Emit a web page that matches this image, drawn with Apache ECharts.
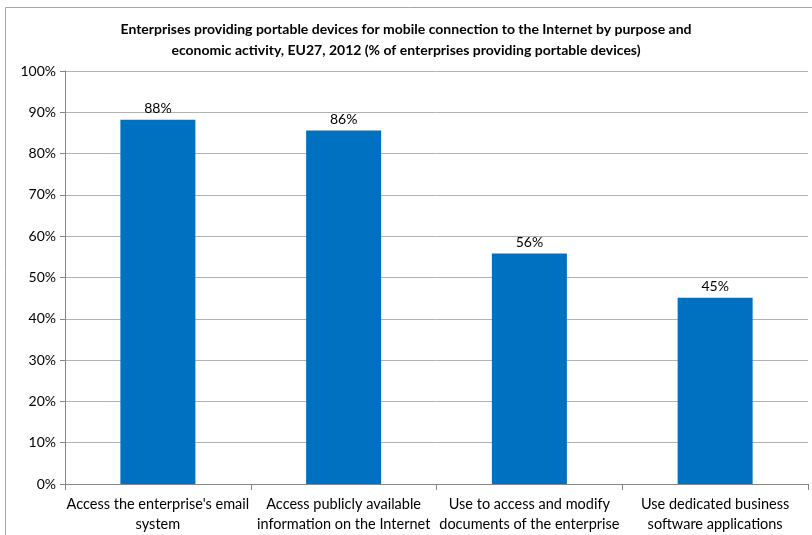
<!DOCTYPE html>
<html>
<head>
<meta charset="utf-8">
<script src="https://cdn.jsdelivr.net/npm/echarts@6/dist/echarts.min.js"></script>
<style>
  html, body { margin: 0; padding: 0; background: #fff; }
  #chart { width: 812px; height: 535px; }
</style>
</head>
<body>
<div id="chart"></div>
<script>
var categories = [
  "Access the enterprise's email\nsystem",
  "Access publicly available\ninformation on the Internet",
  "Use to access and modify\ndocuments of the enterprise",
  "Use dedicated business\nsoftware applications"
];
var values = [88.2, 85.6, 55.8, 45.1];
var yTicks = [0, 10, 20, 30, 40, 50, 60, 70, 80, 90, 100];

var titleText = 'Enterprises providing portable devices for mobile connection to the Internet by purpose and\neconomic activity, EU27, 2012 (% of enterprises providing portable devices)';

var myChart = echarts.init(document.getElementById('chart'));
myChart.setOption({
  animation: false,
  textStyle: { fontFamily: 'Lato' },
  title: {
    text: titleText,
    left: 'center',
    top: 14,
    textStyle: {
      fontFamily: 'Lato',
      fontSize: 14,
      fontWeight: 'bold',
      color: '#000',
      lineHeight: 21
    }
  },
  graphic: [{
    type: 'rect',
    shape: { x: 5.5, y: 7.5, width: 900, height: 700 },
    style: { fill: 'none', stroke: '#a6a6a6', lineWidth: 1 },
    silent: true
  }],
  grid: { left: 65, right: 4, top: 71, bottom: 51 },
  xAxis: {
    type: 'category',
    data: categories,
    axisLine: { lineStyle: { color: '#868686' } },
    axisTick: { show: true, length: 6, lineStyle: { color: '#868686' } },
    axisLabel: {
      interval: 0,
      fontFamily: 'Lato',
      fontSize: 14.5,
      color: '#000',
      lineHeight: 20,
      margin: 10
    }
  },
  yAxis: {
    type: 'value',
    min: yTicks[0],
    max: yTicks[yTicks.length - 1],
    interval: 10,
    axisLine: { show: true, lineStyle: { color: '#868686' } },
    axisTick: { show: true, length: 5, lineStyle: { color: '#868686' } },
    splitLine: { lineStyle: { color: '#b3b3b3' } },
    axisLabel: {
      formatter: '{value}%',
      fontFamily: 'Lato',
      fontSize: 14,
      color: '#000',
      margin: 9
    }
  },
  series: [{
    type: 'bar',
    data: values,
    barWidth: 75,
    itemStyle: { color: '#0070c0' },
    label: {
      show: true,
      position: 'top',
      distance: 4,
      fontFamily: 'Lato',
      fontSize: 14,
      color: '#000',
      formatter: function (p) { return Math.round(p.value) + '%'; }
    }
  }]
});
</script>
</body>
</html>
